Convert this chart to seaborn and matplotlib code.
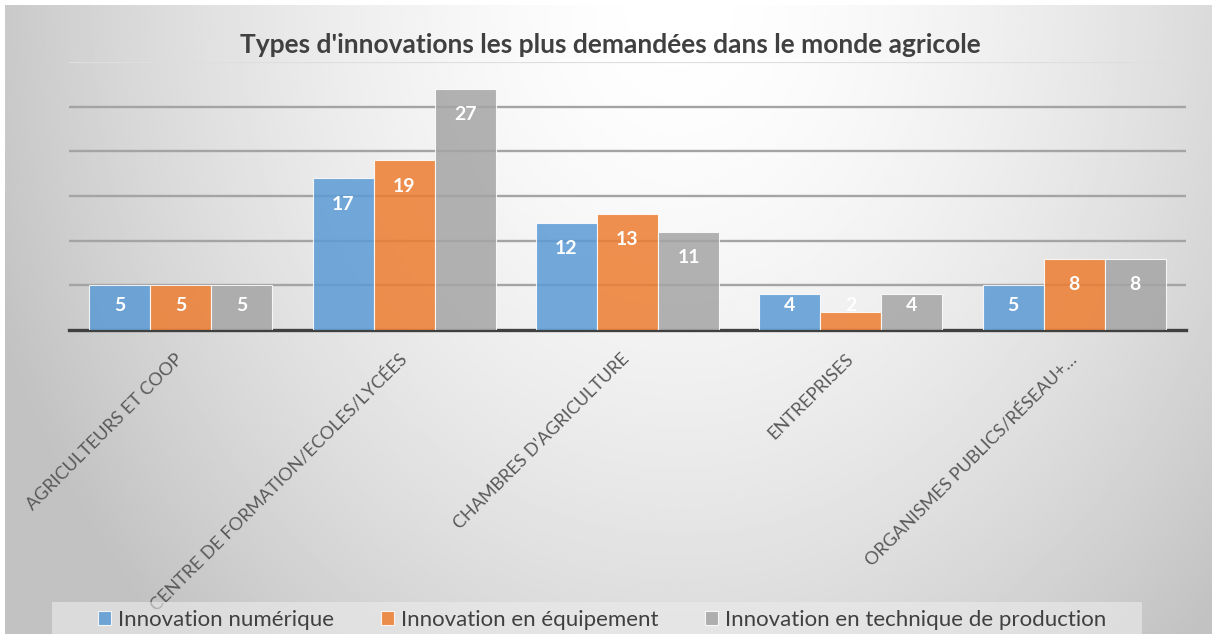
import numpy as np
import pandas as pd
import matplotlib.pyplot as plt
import matplotlib.transforms as mtrans
import seaborn as sns
from matplotlib.patches import Rectangle

categories = ['AGRICULTEURS ET COOP',
              'CENTRE DE FORMATION/ECOLES/LYCÉES',
              "CHAMBRES D'AGRICULTURE",
              'ENTREPRISES',
              'ORGANISMES PUBLICS/RÉSEAU+…']
series = ['Innovation numérique',
          'Innovation en équipement',
          'Innovation en technique de production']
numerique = [5, 17, 12, 4, 5]
equipement = [5, 19, 13, 2, 8]
technique = [5, 27, 11, 4, 8]
colors = ['#5B9BD5', '#ED7D31', '#A5A5A5']

df = pd.DataFrame({
    'categorie': categories * 3,
    'type': [series[0]] * 5 + [series[1]] * 5 + [series[2]] * 5,
    'valeur': numerique + equipement + technique,
})

sns.set_theme(style='white')
plt.rcParams['font.family'] = ['Lato', 'DejaVu Sans']

W, H = 1212, 634
fig = plt.figure(figsize=(W / 100, H / 100), dpi=100, facecolor='white')

# fond en degrade (style Excel)
bg = fig.add_axes([5 / W, 0, 1 - 5 / W, 1 - 5 / H], zorder=0)
xx, yy = np.meshgrid(np.linspace(5, W, 400), np.linspace(5, H, 220))
d = np.sqrt(((xx - 680) / 700) ** 2 + ((yy - 0) / 850) ** 2)
v = 1 - 0.24 * np.clip(d / 1.05, 0, 1) ** 1.6
bg.imshow(v, cmap='gray', vmin=0, vmax=1, aspect='auto',
          extent=[0, 1, 0, 1], origin='upper', interpolation='bilinear')
bg.axis('off')

ax = fig.add_axes([69 / W, 1 - 330 / H, (1186 - 69) / W, (330 - 62) / H], zorder=1)
ax.set_facecolor('none')

sns.barplot(data=df, x='categorie', y='valeur', hue='type', order=categories,
            hue_order=series, palette=colors, width=0.82, gap=0, alpha=0.85,
            edgecolor='white', linewidth=0.8, saturation=1, ax=ax, zorder=3)

ax.set_xlim(-0.5, 4.5)
ax.set_ylim(0, 30)
ax.set_yticks([5, 10, 15, 20, 25])
ax.yaxis.grid(True, color='#a4a4a4', linewidth=1.7, zorder=0)
ax.axhline(30, color='#dedede', linewidth=1.6, zorder=0)
ax.set_axisbelow(True)
for s in ['top', 'right', 'left']:
    ax.spines[s].set_visible(False)
ax.spines['bottom'].set_color('#404040')
ax.spines['bottom'].set_linewidth(2.4)
ax.tick_params(axis='y', left=False, labelleft=False)
ax.tick_params(axis='x', bottom=False, pad=9)
ax.set_xlabel('')
ax.set_ylabel('')
shift = mtrans.ScaledTranslation(-6 / 100, 0, fig.dpi_scale_trans)
for lab in ax.get_xticklabels():
    lab.set_rotation(45)
    lab.set_ha('right')
    lab.set_va('top')
    lab.set_rotation_mode('anchor')
    lab.set_fontsize(13)
    lab.set_color('#595959')
    lab.set_transform(lab.get_transform() + shift)

# etiquettes de valeurs
for cont in ax.containers:
    for p in cont:
        h = p.get_height()
        ax.text(p.get_x() + p.get_width() / 2, max(h - 2.9, 2.7), f'{h:.0f}',
                ha='center', va='center', color='white', fontsize=14,
                fontweight='bold', zorder=5)

fig.text(0.504, 0.929, "Types d'innovations les plus demandées dans le monde agricole",
         ha='center', va='center', fontsize=19, fontweight='bold', color='#404040')

handles, labels = ax.get_legend_handles_labels()
ax.get_legend().remove()
fig.patches.append(Rectangle((52 / W, 0), (1142 - 52) / W, 32 / H,
                             transform=fig.transFigure, facecolor='#ececec',
                             alpha=0.6, edgecolor='none', zorder=1))
fig.legend(handles, labels, loc='center', bbox_to_anchor=(0.4967, 0.022), ncol=3,
           frameon=False, fontsize=16, handlelength=0.6, handleheight=0.6,
           handletextpad=0.3, columnspacing=2.1, labelcolor='#404040')

fig.savefig('out.png', dpi=100, facecolor='white')
